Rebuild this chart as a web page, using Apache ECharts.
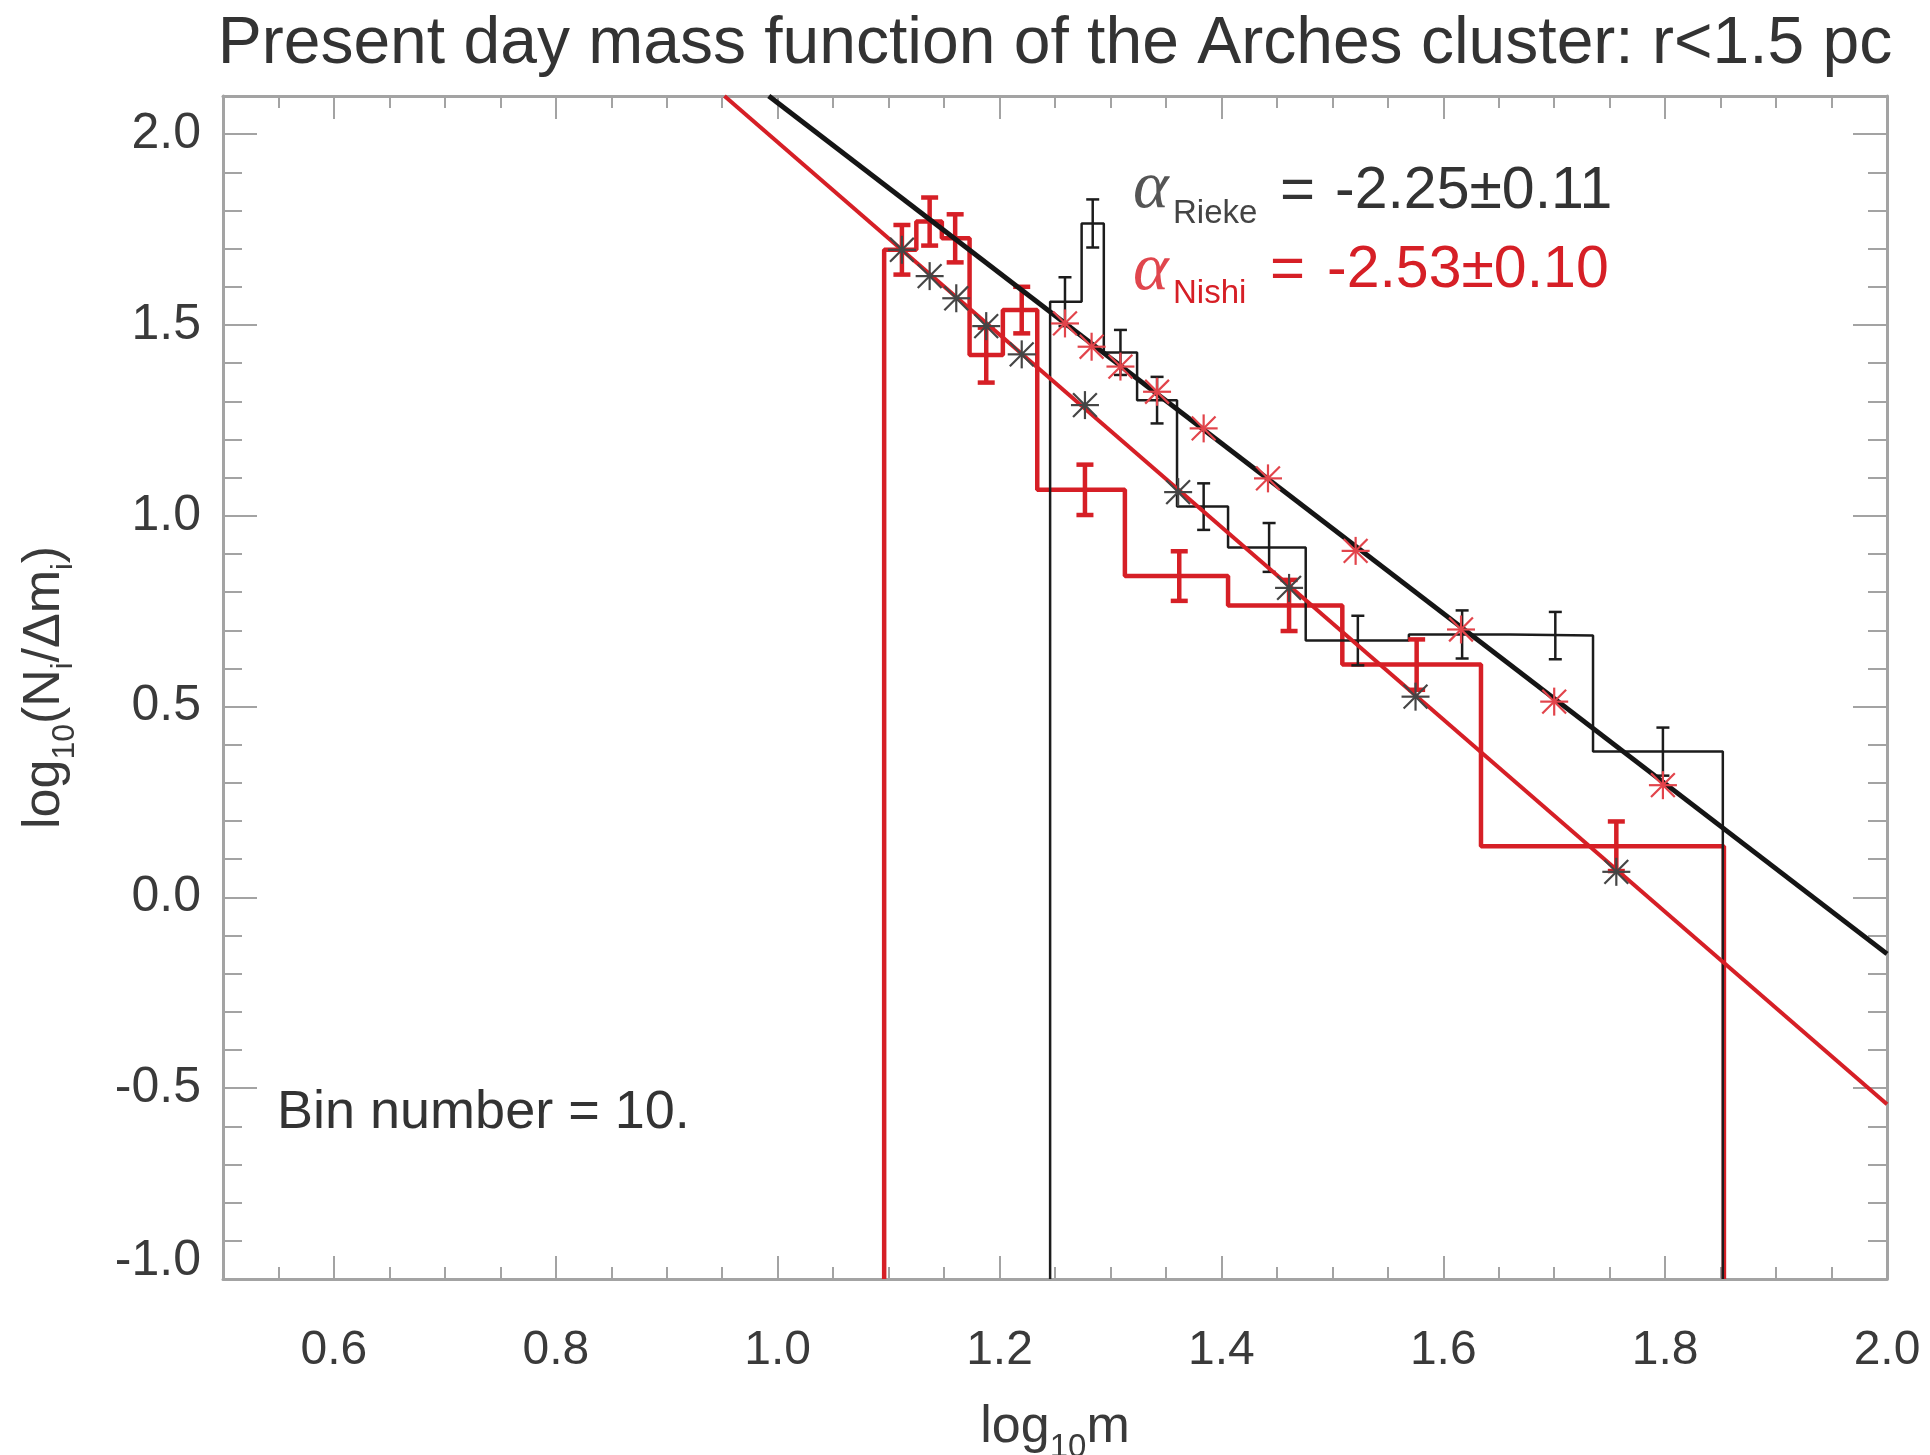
<!DOCTYPE html>
<html>
<head>
<meta charset="utf-8">
<script src="https://cdn.jsdelivr.net/npm/echarts@6/dist/echarts.min.js"></script>
<style>
html,body{margin:0;padding:0;background:#ffffff;}
#chart{width:1930px;height:1455px;}
</style>
</head>
<body>
<div id="chart"></div>
<script>
// ---------------- data ----------------
const xTickValues = [0.6, 0.8, 1.0, 1.2, 1.4, 1.6, 1.8, 2.0];
const yTickValues = [-1.0, -0.5, 0.0, 0.5, 1.0, 1.5, 2.0];

// Nishi (red) histogram: bin edges (log10 m) and heights log10(Ni/dmi)
const nishiEdges = [1.096, 1.125, 1.148, 1.173, 1.203, 1.234, 1.313, 1.406, 1.509, 1.634, 1.853];
const nishiValues = [1.697, 1.771, 1.727, 1.421, 1.539, 1.068, 0.842, 0.765, 0.610, 0.134];
const nishiErrX = [1.112, 1.137, 1.160, 1.188, 1.220, 1.277, 1.362, 1.461, 1.576, 1.756];
const nishiErr = [0.065, 0.063, 0.063, 0.072, 0.061, 0.066, 0.065, 0.067, 0.066, 0.065];

// Rieke (black) histogram
const riekeEdges = [1.2456, 1.274, 1.294, 1.324, 1.360, 1.406, 1.476, 1.569, 1.660, 1.735, 1.852];
const riekeValues = [1.561, 1.766, 1.428, 1.303, 1.024, 0.917, 0.673, 0.689, 0.686, 0.382];
const riekeErrX = [1.259, 1.284, 1.309, 1.342, 1.384, 1.443, 1.523, 1.617, 1.701, 1.798];
const riekeErr = [0.064, 0.063, 0.059, 0.061, 0.061, 0.064, 0.065, 0.063, 0.062, 0.063];

// asterisk points
const blackStarX = [1.112, 1.137, 1.161, 1.188, 1.220, 1.277, 1.361, 1.461, 1.575, 1.756];
const blackStarY = [1.697, 1.628, 1.570, 1.497, 1.423, 1.290, 1.062, 0.811, 0.526, 0.067];
const redStarX = [1.259, 1.283, 1.309, 1.342, 1.384, 1.442, 1.521, 1.616, 1.700, 1.798];
const redStarY = [1.504, 1.443, 1.391, 1.325, 1.229, 1.098, 0.908, 0.702, 0.513, 0.294];

// power-law fit lines (end points)
const riekeFitX = [0.992, 2.0];
const riekeFitY = [2.1, -0.148];
const nishiFitX = [0.952, 2.0];
const nishiFitY = [2.1, -0.542];

// texts
const titleText = 'Present day mass function of the Arches cluster: r<1.5 pc';
const riekeAlpha = '-2.25±0.11';
const nishiAlpha = '-2.53±0.10';
const binText = 'Bin number = 10.';

// axis ranges
const X_MIN = 0.5, X_MAX = 2.0, Y_MIN = -1.0, Y_MAX = 2.1;

// ---------------- styling ----------------
const FONT = "'Liberation Sans', Arial, Helvetica, sans-serif";
const SERIF = "'Liberation Serif', 'DejaVu Serif', serif";
const RED = '#d61f26';
const BLK = '#1c1c1c';
const AX = '#a3a3a3';
const TXT = '#3a3a3a';

function stepPoints(edges, vals, base) {
  const pts = [[edges[0], base]];
  vals.forEach((v, i) => { pts.push([edges[i], v]); pts.push([edges[i + 1], v]); });
  pts.push([edges[edges.length - 1], base]);
  return pts;
}

function errRender(color, lw, cap) {
  return function (params, api) {
    const x = api.value(0), y = api.value(1), e = api.value(2);
    const t = api.coord([x, y + e]);
    const b = api.coord([x, y - e]);
    const st = { stroke: color, lineWidth: lw, fill: null };
    return {
      type: 'group',
      children: [
        { type: 'line', shape: { x1: t[0], y1: t[1], x2: b[0], y2: b[1] }, style: st },
        { type: 'line', shape: { x1: t[0] - cap, y1: t[1], x2: t[0] + cap, y2: t[1] }, style: st },
        { type: 'line', shape: { x1: b[0] - cap, y1: b[1], x2: b[0] + cap, y2: b[1] }, style: st }
      ]
    };
  };
}

function starRender(color, lw, r) {
  return function (params, api) {
    const p = api.coord([api.value(0), api.value(1)]);
    const d = r * 0.85;
    const st = { stroke: color, lineWidth: lw, fill: null };
    return {
      type: 'group',
      children: [
        { type: 'line', shape: { x1: p[0], y1: p[1] - r, x2: p[0], y2: p[1] + r }, style: st },
        { type: 'line', shape: { x1: p[0] - r, y1: p[1], x2: p[0] + r, y2: p[1] }, style: st },
        { type: 'line', shape: { x1: p[0] - d, y1: p[1] - d, x2: p[0] + d, y2: p[1] + d }, style: st },
        { type: 'line', shape: { x1: p[0] - d, y1: p[1] + d, x2: p[0] + d, y2: p[1] - d }, style: st }
      ]
    };
  };
}

function xAxisDef(pos, major, withLabels) {
  const ax = {
    type: 'value', position: pos, min: X_MIN, max: X_MAX, interval: 0.05,
    splitLine: { show: false },
    axisLine: { show: !major, onZero: false, lineStyle: { color: AX, width: 3 } },
    axisTick: { show: true, inside: true, length: major ? 23 : 12, lineStyle: { color: AX, width: 2 } },
    axisLabel: { show: false }
  };
  if (major) {
    ax.axisTick.customValues = xTickValues;
    ax.axisLabel = {
      show: withLabels, customValues: xTickValues, margin: 48,
      fontSize: 48, fontFamily: FONT, color: TXT,
      formatter: v => Number(v).toFixed(1)
    };
  }
  return ax;
}

function yAxisDef(pos, major, withLabels) {
  const ax = {
    type: 'value', position: pos, min: Y_MIN, max: Y_MAX, interval: 0.1,
    splitLine: { show: false },
    axisLine: { show: !major, onZero: false, lineStyle: { color: AX, width: 3 } },
    axisTick: { show: true, inside: true, length: major ? 34 : 19, lineStyle: { color: AX, width: 2 } },
    axisLabel: { show: false }
  };
  if (major) {
    ax.axisTick.customValues = yTickValues;
    ax.axisLabel = {
      show: withLabels, customValues: yTickValues, margin: 22,
      fontSize: 50, fontFamily: FONT, color: TXT,
      formatter: v => (Math.abs(v - Y_MIN) < 1e-9 ? '{lo|' + Number(v).toFixed(1) + '}' : Number(v).toFixed(1)),
      rich: { lo: { fontSize: 50, fontFamily: FONT, color: TXT, padding: [0, 0, 36, 0] } }
    };
  }
  return ax;
}

const xAxes = [
  xAxisDef('bottom', false, false),
  xAxisDef('bottom', true, true),
  xAxisDef('top', false, false),
  xAxisDef('top', true, false)
];
xAxes[1].name = '{a|log}{s|10}{a|m}';
xAxes[1].nameLocation = 'middle';
xAxes[1].nameGap = 119;
xAxes[1].nameTextStyle = {
  fontSize: 52, fontFamily: FONT, color: TXT,
  rich: {
    a: { fontSize: 52, lineHeight: 60, fontFamily: FONT, color: TXT },
    s: { fontSize: 33, lineHeight: 60, fontFamily: FONT, color: TXT, padding: [40, 0, 0, 0] }
  }
};

const yAxes = [
  yAxisDef('left', false, false),
  yAxisDef('left', true, true),
  yAxisDef('right', false, false),
  yAxisDef('right', true, false)
];
yAxes[1].name = '{a|log}{s|10}{a|(N}{t|i}{a|/Δm}{t|i}{a|)}';
yAxes[1].nameLocation = 'middle';
yAxes[1].nameGap = 148;
yAxes[1].nameTextStyle = {
  fontSize: 52, fontFamily: FONT, color: TXT,
  rich: {
    a: { fontSize: 52, lineHeight: 60, fontFamily: FONT, color: TXT },
    s: { fontSize: 32, lineHeight: 60, fontFamily: FONT, color: TXT, padding: [40, 0, 0, 0] },
    t: { fontSize: 30, lineHeight: 60, fontFamily: FONT, color: TXT, padding: [38, 0, 0, 0] }
  }
};

const option = {
  backgroundColor: '#ffffff',
  animation: false,
  title: {
    text: titleText, left: 1050, top: 7, textAlign: 'center',
    textStyle: { fontSize: 66, fontWeight: 'normal', fontFamily: FONT, color: '#333333' }
  },
  grid: { left: 223, right: 43, top: 96, bottom: 176, containLabel: false, outerBoundsMode: 'none' },
  xAxis: xAxes,
  yAxis: yAxes,
  series: [
    {
      name: 'Nishi histogram', type: 'line', xAxisIndex: 0, yAxisIndex: 0,
      data: stepPoints(nishiEdges, nishiValues, Y_MIN),
      symbol: 'none', lineStyle: { color: RED, width: 4.5 }, z: 3, silent: true
    },
    {
      name: 'Rieke histogram', type: 'line', xAxisIndex: 0, yAxisIndex: 0,
      data: stepPoints(riekeEdges, riekeValues, Y_MIN),
      symbol: 'none', lineStyle: { color: BLK, width: 2.5 }, z: 4, silent: true
    },
    {
      name: 'Nishi errors', type: 'custom', xAxisIndex: 0, yAxisIndex: 0, clip: true,
      renderItem: errRender(RED, 4.5, 8.5),
      data: nishiErrX.map((x, i) => [x, nishiValues[i], nishiErr[i]]), z: 5, silent: true
    },
    {
      name: 'Rieke errors', type: 'custom', xAxisIndex: 0, yAxisIndex: 0, clip: true,
      renderItem: errRender(BLK, 2.5, 6.5),
      data: riekeErrX.map((x, i) => [x, riekeValues[i], riekeErr[i]]), z: 5, silent: true
    },
    {
      name: 'Rieke fit', type: 'line', xAxisIndex: 0, yAxisIndex: 0,
      data: riekeFitX.map((x, i) => [x, riekeFitY[i]]),
      symbol: 'none', lineStyle: { color: '#151515', width: 5 }, z: 6, silent: true
    },
    {
      name: 'Nishi fit', type: 'line', xAxisIndex: 0, yAxisIndex: 0,
      data: nishiFitX.map((x, i) => [x, nishiFitY[i]]),
      symbol: 'none', lineStyle: { color: RED, width: 4 }, z: 6, silent: true
    },
    {
      name: 'Nishi model points', type: 'custom', xAxisIndex: 0, yAxisIndex: 0, clip: true,
      renderItem: starRender('#454545', 2.2, 14),
      data: blackStarX.map((x, i) => [x, blackStarY[i]]), z: 7, silent: true
    },
    {
      name: 'Rieke model points', type: 'custom', xAxisIndex: 0, yAxisIndex: 0, clip: true,
      renderItem: starRender('#e2444b', 2.2, 14),
      data: redStarX.map((x, i) => [x, redStarY[i]]), z: 7, silent: true
    }
  ],
  graphic: [
    { type: 'text', x: 1133, y: 189, silent: true, style: { text: 'α', font: 'italic 68px ' + SERIF, fill: '#555555', align: 'left', verticalAlign: 'middle' } },
    { type: 'text', x: 1173, y: 214, silent: true, style: { text: 'Rieke', font: '33px ' + FONT, fill: '#444444', align: 'left', verticalAlign: 'middle' } },
    { type: 'text', x: 1280, y: 192, silent: true, style: { text: '=', font: '60px ' + FONT, fill: '#333333', align: 'left', verticalAlign: 'middle' } },
    { type: 'text', x: 1335, y: 192, silent: true, style: { text: riekeAlpha, font: '59px ' + FONT, fill: '#333333', align: 'left', verticalAlign: 'middle' } },
    { type: 'text', x: 1133, y: 271, silent: true, style: { text: 'α', font: 'italic 68px ' + SERIF, fill: '#e0464d', align: 'left', verticalAlign: 'middle' } },
    { type: 'text', x: 1173, y: 294, silent: true, style: { text: 'Nishi', font: '33px ' + FONT, fill: RED, align: 'left', verticalAlign: 'middle' } },
    { type: 'text', x: 1270, y: 271, silent: true, style: { text: '=', font: '60px ' + FONT, fill: RED, align: 'left', verticalAlign: 'middle' } },
    { type: 'text', x: 1327, y: 271, silent: true, style: { text: nishiAlpha, font: '59px ' + FONT, fill: RED, align: 'left', verticalAlign: 'middle' } },
    { type: 'text', x: 277, y: 1113, silent: true, style: { text: binText, font: '54px ' + FONT, fill: '#333333', align: 'left', verticalAlign: 'middle' } }
  ]
};

const chart = echarts.init(document.getElementById('chart'), null, { renderer: 'canvas', width: 1930, height: 1455 });
chart.setOption(option);
</script>
</body>
</html>
